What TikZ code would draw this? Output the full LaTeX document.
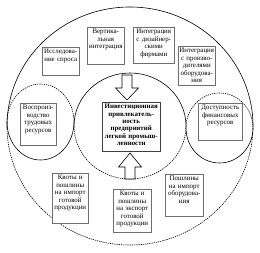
\documentclass[tikz,border=0pt]{standalone}
\usepackage{fontspec}
\setmainfont{Liberation Serif}
\usetikzlibrary{positioning}
\definecolor{BoxGray}{RGB}{110,110,110}
\tikzset{
  factor/.style={draw=BoxGray,fill=white,line width=0.5pt,anchor=north west,align=center,inner xsep=1pt,inner ysep=1.5pt,text height=4.9pt,font=\fontsize{6.9}{7.5}\selectfont},
  keyfactor/.style={factor,draw=black!75,font=\fontsize{6.9}{7.4}\selectfont\bfseries},
  ring/.style={line width=0.6pt},
  dashring/.style={line width=0.6pt,dash pattern=on 1.3pt off 0.9pt},
  blockarrow/.style={draw,line width=0.6pt,fill=white,line join=miter}
}

\begin{document}
\begin{tikzpicture}[x=1pt,y=-1pt]
\useasboundingbox (0,0) rectangle (260,252);
% outer ring: solid top, dashed bottom
\draw[ring] (7,126) arc[start angle=180,end angle=360,x radius=123,y radius=119];
\draw[dashring] (253,126) arc[start angle=0,end angle=180,x radius=123,y radius=119];
% inner ring
\draw[ring] (74,126) arc[start angle=180,end angle=360,x radius=56,y radius=53];
\draw[dashring] (186,126) arc[start angle=0,end angle=180,x radius=56,y radius=53];
% side rings
\draw[dashring] (7,122) arc[start angle=180,end angle=360,x radius=33.5,y radius=38];
\draw[ring] (74,122) arc[start angle=0,end angle=180,x radius=33.5,y radius=38];
\draw[dashring] (186,128) arc[start angle=180,end angle=360,x radius=33.5,y radius=35];
\draw[ring] (253,128) arc[start angle=0,end angle=180,x radius=33.5,y radius=35];

\node[factor,text width=35pt,text depth=20.1pt] (demand) at (42,47) {Исследова-\\ние спроса};
\node[factor,text width=35pt,text depth=29.1pt] (vertical) at (87,27) {Вертика-\\льная\\интеграция};
\node[factor,text width=39pt,text depth=28.1pt] (design) at (133,27) {Интеграция\\с дизайнер-\\скими\\фирмами};
\node[factor,text width=35pt,text depth=31.1pt] (equip) at (178,46) {Интеграция\\с произво-\\дителями\\оборудова-\\ния};
\node[factor,text width=34pt,text depth=34.1pt] (labour) at (20,103) {Воспроиз-\\водство\\трудовых\\ресурсов};
\node[factor,text width=42pt,text depth=29.1pt] (finance) at (198,103) {Доступность\\финансовых\\ресурсов};
\node[keyfactor,text width=56pt,text depth=41.1pt] (invest) at (102,102) {Инвестиционная\\привлекатель-\\ность\\предприятий\\легкой промыш-\\ленности};
\node[factor,text width=34pt,text depth=42.1pt] (import) at (52,173) {Квоты и\\пошлины\\на импорт\\готовой\\продукции};
\node[factor,text width=36pt,text depth=35.1pt] (export) at (113,189) {Квоты и\\пошлины\\на экспорт\\готовой\\продукции};
\node[factor,text width=36pt,text depth=34.1pt] (duty) at (165,174) {Пошлины\\на импорт\\оборудова-\\ния};

% block arrows into the centre
\draw[blockarrow] (122,75) -- (132,75) -- (132,88) -- (138.5,88) -- (127,100) -- (115.5,88) -- (122,88) -- cycle;
\draw[blockarrow] (125,179) -- (135,179) -- (135,167) -- (141.5,167) -- (130,153) -- (118.5,167) -- (125,167) -- cycle;
\end{tikzpicture}
\end{document}
